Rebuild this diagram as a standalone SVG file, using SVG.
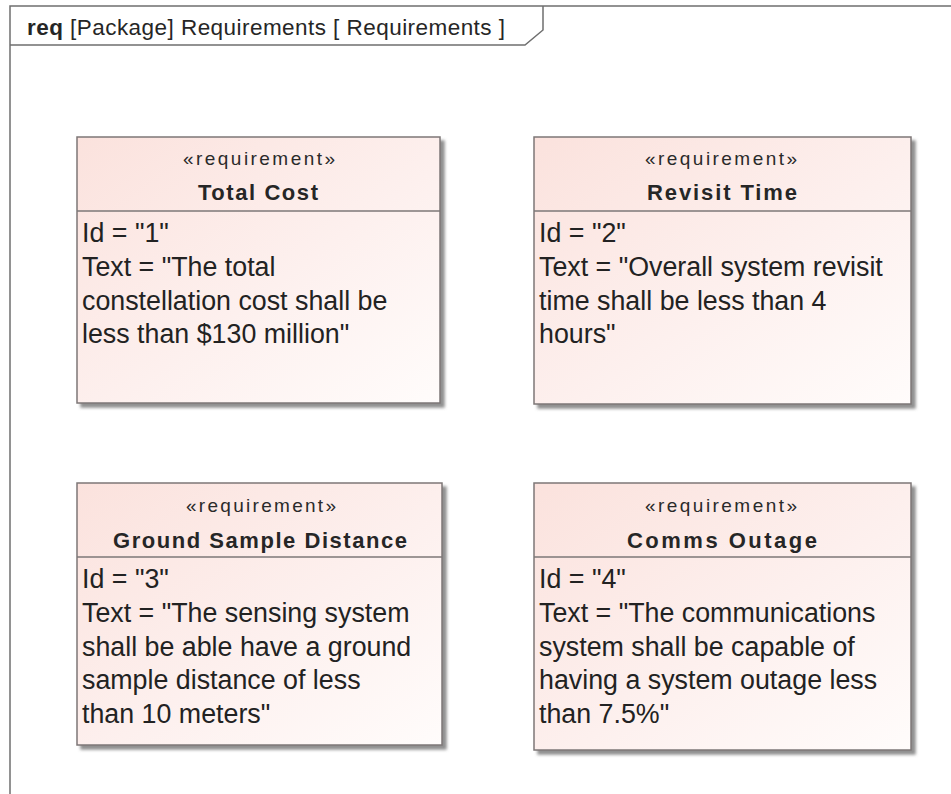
<svg xmlns="http://www.w3.org/2000/svg" width="951" height="794" viewBox="0 0 951 794">
  <defs>
    <linearGradient id="reqFill" x1="0" y1="0" x2="1" y2="1">
      <stop offset="0" stop-color="#fbe2dd"/>
      <stop offset="0.55" stop-color="#fdf0ee"/>
      <stop offset="1" stop-color="#fffcfb"/>
    </linearGradient>
    <filter id="shadow" x="-5%" y="-5%" width="115%" height="115%">
      <feDropShadow dx="4" dy="4" stdDeviation="1.6" flood-color="#6a6a6a" flood-opacity="0.75"/>
    </filter>
  </defs>
  <style>
    .frame { fill: none; stroke: #6f6f6f; stroke-width: 1.5; }
    .title { font-family: "Liberation Sans", Arial, sans-serif; font-size: 22.5px; fill: #262626; }
    .box { fill: url(#reqFill); stroke: #7d7777; stroke-width: 1.5; filter: url(#shadow); }
    .divider { stroke: #7d7777; stroke-width: 1.5; }
    .stereo { font-family: "Liberation Sans", Arial, sans-serif; font-size: 19px; fill: #2a2a2a; text-anchor: middle; }
    .name { font-family: "Liberation Sans", Arial, sans-serif; font-size: 22px; font-weight: bold; fill: #262626; text-anchor: middle; }
    .body { font-family: "Liberation Sans", Arial, sans-serif; font-size: 26.8px; fill: #222; }
  </style>

  <rect width="951" height="794" fill="#ffffff"/>

  <!-- diagram frame with name tab -->
  <g id="frame">
    <path class="frame" d="M10,794 V6 H951"/>
    <path class="frame" d="M10,45 H525 L543,30 V6"/>
    <text class="title" x="27" y="35" textLength="478" lengthAdjust="spacing"><tspan font-weight="bold">req</tspan> [Package] Requirements [ Requirements ]</text>
  </g>

  <g id="connectors"/>

  <!-- requirement 1 -->
  <g id="req-total-cost">
    <rect class="box" x="77" y="137" width="363" height="266"/>
    <line class="divider" x1="77" y1="211" x2="440" y2="211"/>
    <text class="stereo" x="259" y="165" textLength="152" lengthAdjust="spacing">«requirement»</text>
    <text class="name" x="258" y="200" textLength="120" lengthAdjust="spacing">Total Cost</text>
    <text class="body">
      <tspan x="82" y="242">Id = "1"</tspan>
      <tspan x="82" y="276">Text = "The total</tspan>
      <tspan x="82" y="310">constellation cost shall be</tspan>
      <tspan x="82" y="343">less than $130 million"</tspan>
    </text>
  </g>

  <!-- requirement 2 -->
  <g id="req-revisit-time">
    <rect class="box" x="534" y="137" width="377" height="267"/>
    <line class="divider" x1="534" y1="211" x2="911" y2="211"/>
    <text class="stereo" x="721" y="165" textLength="152" lengthAdjust="spacing">«requirement»</text>
    <text class="name" x="722" y="200" textLength="150" lengthAdjust="spacing">Revisit Time</text>
    <text class="body">
      <tspan x="539" y="242">Id = "2"</tspan>
      <tspan x="539" y="276">Text = "Overall system revisit</tspan>
      <tspan x="539" y="310">time shall be less than 4</tspan>
      <tspan x="539" y="343">hours"</tspan>
    </text>
  </g>

  <!-- requirement 3 -->
  <g id="req-ground-sample-distance">
    <rect class="box" x="77" y="483" width="365" height="262"/>
    <line class="divider" x1="77" y1="557" x2="442" y2="557"/>
    <text class="stereo" x="261" y="512" textLength="150" lengthAdjust="spacing">«requirement»</text>
    <text class="name" x="260" y="548" textLength="294" lengthAdjust="spacing">Ground Sample Distance</text>
    <text class="body">
      <tspan x="82" y="588">Id = "3"</tspan>
      <tspan x="82" y="622">Text = "The sensing system</tspan>
      <tspan x="82" y="656">shall be able have a ground</tspan>
      <tspan x="82" y="689">sample distance of less</tspan>
      <tspan x="82" y="723">than 10 meters"</tspan>
    </text>
  </g>

  <!-- requirement 4 -->
  <g id="req-comms-outage">
    <rect class="box" x="534" y="483" width="377" height="267"/>
    <line class="divider" x1="534" y1="557" x2="911" y2="557"/>
    <text class="stereo" x="721" y="512" textLength="152" lengthAdjust="spacing">«requirement»</text>
    <text class="name" x="722" y="548" textLength="190" lengthAdjust="spacing">Comms Outage</text>
    <text class="body">
      <tspan x="539" y="588">Id = "4"</tspan>
      <tspan x="539" y="622">Text = "The communications</tspan>
      <tspan x="539" y="656">system shall be capable of</tspan>
      <tspan x="539" y="689">having a system outage less</tspan>
      <tspan x="539" y="723">than 7.5%"</tspan>
    </text>
  </g>
</svg>
